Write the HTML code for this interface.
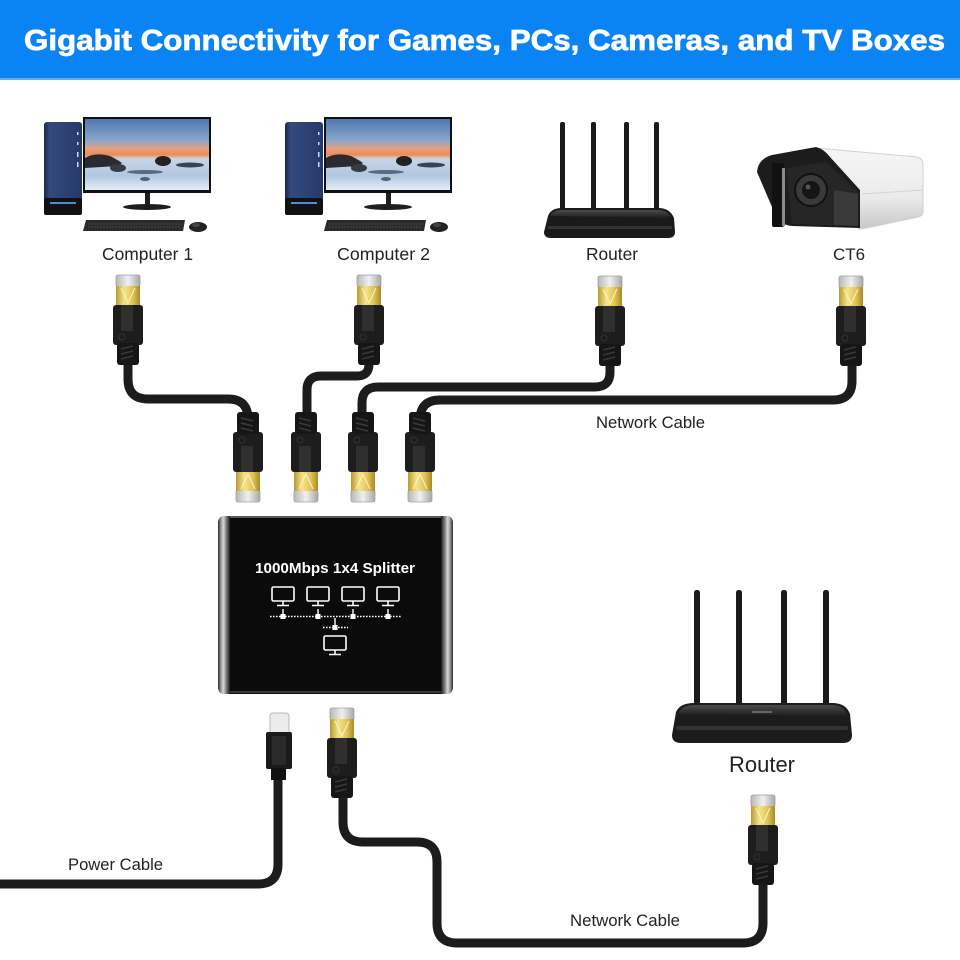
<!DOCTYPE html>
<html><head><meta charset="utf-8">
<style>
html,body{margin:0;padding:0;background:#fff;}
svg{display:block;}
text{font-family:"Liberation Sans",Arial,sans-serif;}
</style></head>
<body>
<svg width="960" height="960" viewBox="0 0 960 960" xmlns="http://www.w3.org/2000/svg">
<defs>
  <linearGradient id="gold" x1="0" y1="0" x2="1" y2="0">
    <stop offset="0" stop-color="#b89a30"/>
    <stop offset="0.35" stop-color="#f4e48a"/>
    <stop offset="0.7" stop-color="#e0c558"/>
    <stop offset="1" stop-color="#a88a28"/>
  </linearGradient>
  <linearGradient id="silv" x1="0" y1="0" x2="1" y2="0">
    <stop offset="0" stop-color="#b8b8b8"/>
    <stop offset="0.5" stop-color="#f0f0f0"/>
    <stop offset="1" stop-color="#a8a8a8"/>
  </linearGradient>
  <linearGradient id="screen" x1="0" y1="0" x2="0" y2="1">
    <stop offset="0" stop-color="#4f78b0"/>
    <stop offset="0.3" stop-color="#8aa6c8"/>
    <stop offset="0.42" stop-color="#e8a080"/>
    <stop offset="0.5" stop-color="#f08a50"/>
    <stop offset="0.56" stop-color="#c8d4e4"/>
    <stop offset="0.8" stop-color="#b0c8e0"/>
    <stop offset="1" stop-color="#e6eef6"/>
  </linearGradient>
  <linearGradient id="tower" x1="0" y1="0" x2="1" y2="0">
    <stop offset="0" stop-color="#1c2a4a"/>
    <stop offset="0.15" stop-color="#34497c"/>
    <stop offset="1" stop-color="#26396a"/>
  </linearGradient>
  <linearGradient id="cap" x1="0" y1="0" x2="1" y2="0">
    <stop offset="0" stop-color="#2a2a2a"/>
    <stop offset="0.25" stop-color="#9a9a9a"/>
    <stop offset="0.45" stop-color="#d8d8d8"/>
    <stop offset="0.7" stop-color="#7a7a7a"/>
    <stop offset="1" stop-color="#1a1a1a"/>
  </linearGradient>
  <linearGradient id="camBody" x1="0" y1="0" x2="0" y2="1">
    <stop offset="0" stop-color="#f6f6f6"/>
    <stop offset="0.6" stop-color="#ebebeb"/>
    <stop offset="1" stop-color="#c8c8c8"/>
  </linearGradient>
  <linearGradient id="rtop" x1="0" y1="0" x2="0" y2="1">
    <stop offset="0" stop-color="#4a4a4a"/>
    <stop offset="1" stop-color="#1e1e1e"/>
  </linearGradient>

  <g id="rj">
    <rect x="-12" y="0" width="24" height="12" rx="2" fill="url(#silv)" stroke="#a0a0a0" stroke-width="0.8"/>
    <rect x="-12" y="11" width="24" height="20" fill="url(#gold)"/>
    <path d="M-7 13 L0 28 L7 13" stroke="#fff6c0" stroke-width="1" fill="none"/>
    <rect x="-15" y="30" width="30" height="40" rx="3" fill="#1d1d1d"/>
    <rect x="-7" y="30" width="12" height="26" fill="#2f2f2f"/>
    <circle cx="-6" cy="62" r="3" fill="none" stroke="#333" stroke-width="1"/>
    <rect x="-11" y="68" width="22" height="22" rx="3" fill="#161616"/>
    <path d="M-7 74 L5 71 M-7 79 L5 76 M-7 84 L5 81" stroke="#3a3a3a" stroke-width="1.5"/>
  </g>

  <g id="comp">
    <rect x="44" y="122" width="38" height="93" rx="3" fill="url(#tower)"/>
    <rect x="44" y="198" width="38" height="17" rx="2" fill="#111"/>
    <rect x="50" y="202" width="26" height="2" fill="#4a8ad8"/>
    <rect x="77" y="132" width="1.5" height="3" fill="#cfd8ea"/>
    <rect x="77" y="142" width="1.5" height="3" fill="#cfd8ea"/>
    <rect x="77" y="152" width="1.5" height="5" fill="#cfd8ea"/>
    <rect x="77" y="162" width="1.5" height="5" fill="#cfd8ea"/>
    <rect x="83" y="117" width="128" height="76" fill="#111"/>
    <rect x="85" y="119" width="124" height="71" fill="url(#screen)"/>
    <path d="M85 158 Q95 152 110 156 Q118 160 122 163 L118 166 L85 168 Z" fill="#2a2a30"/>
    <ellipse cx="118" cy="168" rx="8" ry="4" fill="#3a3a44"/>
    <ellipse cx="163" cy="161" rx="8" ry="5" fill="#222"/>
    <ellipse cx="190" cy="165" rx="14" ry="2.5" fill="#3a4250"/>
    <ellipse cx="145" cy="172" rx="18" ry="2" fill="#5a6a80"/>
    <ellipse cx="145" cy="179" rx="5" ry="2" fill="#5a6070"/>
    <rect x="145" y="193" width="5" height="12" fill="#1e1e1e"/>
    <ellipse cx="147" cy="207" rx="24" ry="3" fill="#1e1e1e"/>
    <path d="M86 220 L185 220 L183 231 L83 231 Z" fill="#2a2a2a"/>
    <path d="M88 224 L182 224 M88 227 L181 227" stroke="#555" stroke-width="0.8" stroke-dasharray="2 1"/>
    <ellipse cx="198" cy="227" rx="9" ry="5" fill="#222"/>
    <ellipse cx="196" cy="225" rx="4" ry="2" fill="#444"/>
  </g>

  <g id="mon">
    <rect x="-11" y="0" width="22" height="14" rx="1.5" fill="none" stroke="#fff" stroke-width="1.6"/>
    <path d="M0 14 V18 M-6 18.5 H6" stroke="#fff" stroke-width="1.6"/>
  </g>
</defs>

<!-- header -->
<rect x="0" y="0" width="960" height="79" fill="#0a83f5"/>
<rect x="0" y="78" width="960" height="2" fill="#5eaaf6"/>
<text x="24" y="50" font-size="29" font-weight="bold" fill="#fff" stroke="#fff" stroke-width="0.7" textLength="921" lengthAdjust="spacingAndGlyphs">Gigabit Connectivity for Games, PCs, Cameras, and TV Boxes</text>

<!-- computers -->
<use href="#comp"/>
<use href="#comp" transform="translate(241,0)"/>
<text x="102" y="260" font-size="17.4" fill="#222" textLength="91" lengthAdjust="spacingAndGlyphs">Computer 1</text>
<text x="337" y="260" font-size="17.4" fill="#222" textLength="93" lengthAdjust="spacingAndGlyphs">Computer 2</text>

<!-- router top -->
<rect x="560" y="122" width="5" height="92" rx="2" fill="#1a1a1a"/>
<rect x="591" y="122" width="5" height="92" rx="2" fill="#1a1a1a"/>
<rect x="624" y="122" width="5" height="92" rx="2" fill="#1a1a1a"/>
<rect x="654" y="122" width="5" height="92" rx="2" fill="#1a1a1a"/>
<path d="M548 216 Q551 208 562 208 H658 Q670 208 674 218 L675 232 Q675 238 668 238 H551 Q544 238 544 232 Z" fill="#1a1a1a"/>
<path d="M550 216 Q553 210 562 210 H658 Q668 210 671 218 Z" fill="url(#rtop)"/>
<rect x="548" y="226" width="124" height="3" fill="#333"/>
<text x="586" y="260" font-size="17.3" fill="#222" textLength="52" lengthAdjust="spacingAndGlyphs">Router</text>

<!-- camera -->
<path d="M816 148 L917 157 Q923 158 923 166 L923 212 Q923 216 918 217 L862 229 L858 229 L858 190 L828 157 Z" fill="url(#camBody)" stroke="#d0d0d0" stroke-width="1"/>
<path d="M862 194 L923 190" stroke="#d2d2d2" stroke-width="1"/>
<path d="M757 172 Q758 159 772 155 L816 147 Q824 149 830 157 L860 190 L860 228 L792 226 Q780 225 775 214 Z" fill="#1c1c1c"/>
<path d="M786 168 L826 162 L858 192 L858 226 L792 224 Z" fill="#262626"/>
<path d="M834 190 L858 194 L858 226 L834 225 Z" fill="#3a3a3a"/>
<circle cx="811" cy="190" r="16" fill="#3a3a3a" stroke="#111" stroke-width="2"/>
<circle cx="811" cy="190" r="9" fill="#151515"/>
<circle cx="808" cy="187" r="2.5" fill="#555"/>
<rect x="772" y="163" width="12" height="64" rx="2" fill="#111"/>
<rect x="782" y="168" width="3" height="58" fill="#8a8a8a"/>
<text x="833" y="260" font-size="17" fill="#222" textLength="32" lengthAdjust="spacingAndGlyphs">CT6</text>

<!-- cables top -->
<g fill="none" stroke="#1c1c1c" stroke-width="9" stroke-linecap="butt">
  <path d="M128 360 V379 Q128 399 148 399 H228 Q248 399 248 419 V430"/>
  <path d="M369 360 V364 Q369 376 357 376 H321 Q307 376 307 390 V430"/>
  <path d="M610 360 V372 Q610 387 595 387 H378 Q362 387 362 403 V430"/>
  <path d="M852 360 V381 Q852 400 833 400 H440 Q420 400 420 420 V430"/>
</g>
<use href="#rj" transform="translate(128,275)"/>
<use href="#rj" transform="translate(369,275)"/>
<use href="#rj" transform="translate(610,276)"/>
<use href="#rj" transform="translate(851,276)"/>
<text x="596" y="428" font-size="16.6" fill="#222" textLength="109" lengthAdjust="spacingAndGlyphs">Network Cable</text>

<!-- splitter connectors -->
<use href="#rj" transform="translate(248,502) scale(1,-1)"/>
<use href="#rj" transform="translate(306,502) scale(1,-1)"/>
<use href="#rj" transform="translate(363,502) scale(1,-1)"/>
<use href="#rj" transform="translate(420,502) scale(1,-1)"/>

<!-- splitter box -->
<rect x="218" y="516" width="235" height="178" rx="7" fill="#0b0b0b"/>
<rect x="226" y="516" width="219" height="2" fill="#5a5a5a"/>
<rect x="226" y="691" width="219" height="2" fill="#3a3a3a"/>
<path d="M230 516 H224 Q218 516 218 524 V686 Q218 694 224 694 H230 Z" fill="url(#cap)"/>
<path d="M230 516 H224 Q218 516 218 524 V686 Q218 694 224 694 H230 Z" fill="url(#cap)" transform="translate(671,0) scale(-1,1)"/>
<text x="255" y="573" font-size="15" font-weight="bold" fill="#fff" textLength="160" lengthAdjust="spacingAndGlyphs">1000Mbps 1x4 Splitter</text>
<use href="#mon" transform="translate(283,587)"/>
<use href="#mon" transform="translate(318,587)"/>
<use href="#mon" transform="translate(353,587)"/>
<use href="#mon" transform="translate(388,587)"/>
<path d="M270 616.5 H401" stroke="#fff" stroke-width="1.6" stroke-dasharray="1.6 1.4"/>
<g fill="#fff">
  <rect x="280.5" y="614" width="5" height="5"/>
  <rect x="315.5" y="614" width="5" height="5"/>
  <rect x="350.5" y="614" width="5" height="5"/>
  <rect x="385.5" y="614" width="5" height="5"/>
  <rect x="332.5" y="625" width="5" height="5"/>
</g>
<path d="M283 609 V614 M318 609 V614 M353 609 V614 M388 609 V614 M335 618 V625" stroke="#fff" stroke-width="1.4"/>
<path d="M323 627.5 H348" stroke="#fff" stroke-width="1.6" stroke-dasharray="1.6 1.4"/>
<use href="#mon" transform="translate(335,636)"/>

<!-- router bottom -->
<rect x="694" y="590" width="6" height="118" rx="2.5" fill="#1a1a1a"/>
<rect x="736" y="590" width="6" height="118" rx="2.5" fill="#1a1a1a"/>
<rect x="781" y="590" width="6" height="118" rx="2.5" fill="#1a1a1a"/>
<rect x="823" y="590" width="6" height="118" rx="2.5" fill="#1a1a1a"/>
<path d="M676 712 Q680 703 694 703 H832 Q846 703 850 714 L852 735 Q852 743 843 743 H681 Q672 743 672 735 Z" fill="#1c1c1c"/>
<path d="M678 714 Q682 705 694 705 H832 Q844 705 848 716 Z" fill="url(#rtop)"/>
<rect x="676" y="726" width="172" height="4" rx="2" fill="#333"/>
<rect x="752" y="711" width="20" height="2" fill="#666"/>
<text x="729" y="772" font-size="22" fill="#222" textLength="66" lengthAdjust="spacingAndGlyphs">Router</text>

<!-- bottom cables -->
<g fill="none" stroke="#1c1c1c" stroke-width="9">
  <path d="M278 776 V864 Q278 884 258 884 H0"/>
  <path d="M343 790 V822 Q343 842 363 842 H417 Q437 842 437 862 V923 Q437 943 457 943 H743 Q763 943 763 923 V878"/>
</g>
<!-- usb-c -->
<rect x="270" y="713" width="19" height="21" rx="3" fill="#ececec" stroke="#b8b8b8" stroke-width="1"/>
<rect x="266" y="732" width="26" height="37" rx="2" fill="#1a1a1a"/>
<rect x="272" y="736" width="14" height="29" fill="#2a2a2a"/>
<rect x="271" y="768" width="15" height="12" fill="#111"/>
<use href="#rj" transform="translate(342,708)"/>
<use href="#rj" transform="translate(763,795)"/>
<text x="68" y="870" font-size="16.6" fill="#222" textLength="95" lengthAdjust="spacingAndGlyphs">Power Cable</text>
<text x="570" y="926" font-size="16.6" fill="#222" textLength="110" lengthAdjust="spacingAndGlyphs">Network Cable</text>
</svg>
</body></html>
